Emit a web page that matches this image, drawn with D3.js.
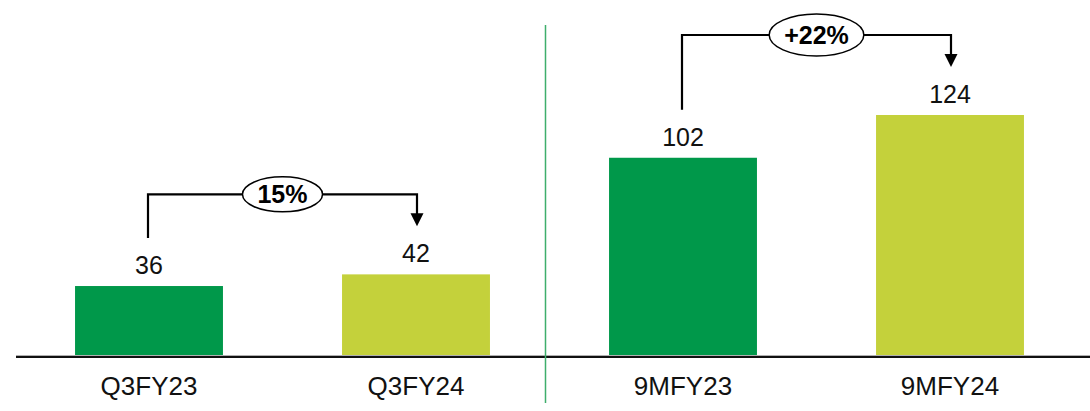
<!DOCTYPE html>
<html>
<head>
<meta charset="utf-8">
<script src="https://cdn.jsdelivr.net/npm/d3@7"></script>
<style>
  html, body { margin: 0; padding: 0; background: #fff; }
  svg { display: block; font-family: "Liberation Sans", Arial, sans-serif; }
</style>
</head>
<body>
<div id="chart"></div>
<script>
// Chart data
const categories = ["Q3FY23", "Q3FY24", "9MFY23", "9MFY24"];
const values = [36, 42, 102, 124];
const barColors = ["#00984a", "#c4d13b", "#00984a", "#c4d13b"];
// growth brackets: from category -> to category, label
const growthFrom = ["Q3FY23", "9MFY23"];
const growthTo = ["Q3FY24", "9MFY24"];
const growthLabels = ["15%", "+22%"];

const width = 1090;
const height = 411;
const baseline = 356;

const svg = d3.select("#chart")
    .append("svg")
    .attr("width", width)
    .attr("height", height);

const x = d3.scaleBand()
    .domain(categories)
    .range([15.5, 1083.5])
    .paddingInner(0.446)
    .paddingOuter(0.223);

const y = d3.scaleLinear()
    .domain([0, 124])
    .range([baseline, 115]);

const valueOf = c => values[categories.indexOf(c)];
const cx = c => x(c) + x.bandwidth() / 2;

// bars
svg.selectAll("rect.bar")
    .data(categories)
    .enter()
    .append("rect")
    .attr("class", "bar")
    .attr("x", d => x(d))
    .attr("y", d => y(valueOf(d)))
    .attr("width", x.bandwidth())
    .attr("height", d => baseline - y(valueOf(d)))
    .attr("fill", (d, i) => barColors[i]);

// value labels
svg.selectAll("text.value")
    .data(categories)
    .enter()
    .append("text")
    .attr("class", "value")
    .attr("x", d => cx(d))
    .attr("y", d => y(valueOf(d)) - 12)
    .attr("text-anchor", "middle")
    .style("font-size", "25px")
    .style("fill", "#111")
    .text(d => valueOf(d));

// baseline (black with a grey edge)
svg.append("line")
    .attr("x1", 16).attr("x2", width)
    .attr("y1", baseline - 0.5).attr("y2", baseline - 0.5)
    .attr("stroke", "#b0b0b0").attr("stroke-width", 1);
svg.append("line")
    .attr("x1", 16).attr("x2", width)
    .attr("y1", baseline + 1).attr("y2", baseline + 1)
    .attr("stroke", "#111").attr("stroke-width", 2);

// category labels
svg.selectAll("text.cat")
    .data(categories)
    .enter()
    .append("text")
    .attr("class", "cat")
    .attr("x", d => cx(d))
    .attr("y", 395)
    .attr("text-anchor", "middle")
    .style("font-size", "26px")
    .style("fill", "#111")
    .text(d => d);

// divider between the two groups
const divX = x(categories[2]) - x.step() * x.paddingInner() / 2 - 4;
svg.append("line")
    .attr("x1", divX).attr("x2", divX)
    .attr("y1", 25).attr("y2", 403)
    .attr("stroke", "#3fae6c")
    .attr("stroke-width", 1.5);

// growth brackets
growthFrom.forEach((from, i) => {
    const to = growthTo[i];
    const x1 = cx(from) - 1;
    const x2 = cx(to) + 1;
    const yTop = Math.min(y(valueOf(from)), y(valueOf(to))) - 80;
    const yStart = y(valueOf(from)) - 48;
    const yTip = y(valueOf(to)) - 48;

    const g = svg.append("g");

    g.append("path")
        .attr("d", `M${x1},${yStart} V${yTop} H${x2} V${yTip - 12}`)
        .attr("fill", "none")
        .attr("stroke", "#000")
        .attr("stroke-width", 2.2);

    // arrow head
    g.append("path")
        .attr("d", `M${x2 - 6.5},${yTip - 13} L${x2 + 6.5},${yTip - 13} L${x2},${yTip} Z`)
        .attr("fill", "#000");

    const mid = (x1 + x2) / 2;
    const ell = g.append("ellipse")
        .attr("cx", mid)
        .attr("cy", yTop)
        .attr("fill", "#fff")
        .attr("stroke", "#000")
        .attr("stroke-width", 1.5);

    const label = g.append("text")
        .attr("x", mid)
        .attr("y", yTop + 9)
        .attr("text-anchor", "middle")
        .style("font-size", "25px")
        .style("font-weight", "bold")
        .style("fill", "#000")
        .text(growthLabels[i]);

    const w = label.node().getBBox().width;
    ell.attr("rx", w / 2 + 15).attr("ry", i === 0 ? 17.5 : 21);
});
</script>
</body>
</html>
